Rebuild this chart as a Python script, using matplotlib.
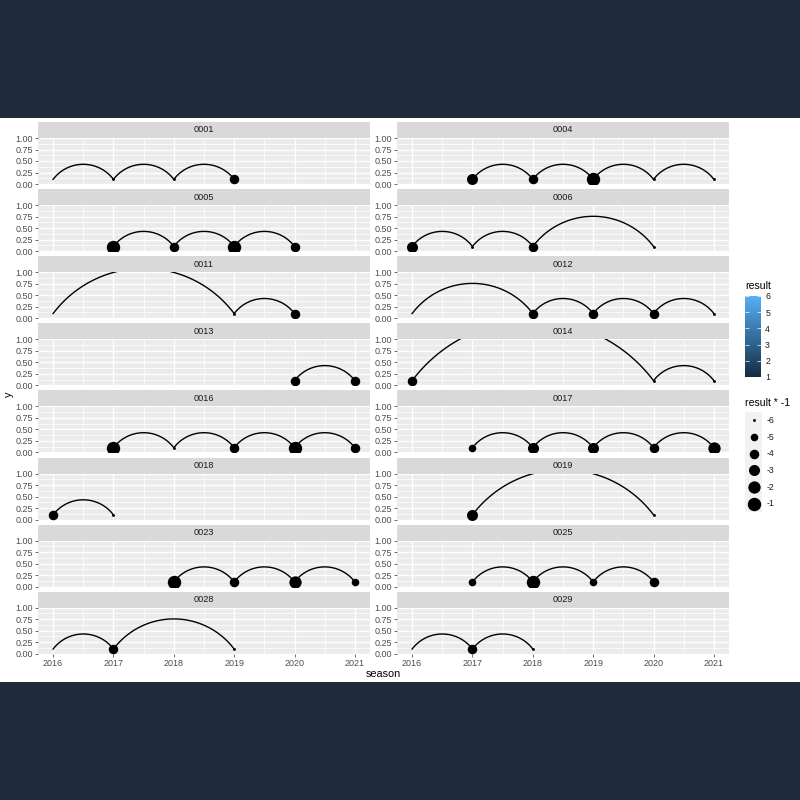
# Arc timeline per id (facet grid, ggplot look)

import numpy as np
import matplotlib.pyplot as plt
from matplotlib.patches import Rectangle
from matplotlib.colors import LinearSegmentedColormap
from matplotlib.cm import ScalarMappable
from matplotlib.colors import Normalize

plt.rcParams['font.family'] = ['Liberation Sans', 'DejaVu Sans']

# data
facet_ids = ['0001', '0004', '0005', '0006', '0011', '0012', '0013', '0014',
             '0016', '0017', '0018', '0019', '0023', '0025', '0028', '0029']
facet_seasons = [
    [2016, 2017, 2018, 2019],
    [2017, 2018, 2019, 2020, 2021],
    [2017, 2018, 2019, 2020],
    [2016, 2017, 2018, 2020],
    [2016, 2019, 2020],
    [2016, 2018, 2019, 2020, 2021],
    [2020, 2021],
    [2016, 2020, 2021],
    [2017, 2018, 2019, 2020, 2021],
    [2017, 2018, 2019, 2020, 2021],
    [2016, 2017],
    [2017, 2020],
    [2018, 2019, 2020, 2021],
    [2017, 2018, 2019, 2020],
    [2016, 2017, 2019],
    [2016, 2017, 2018],
]
# None = no point drawn
facet_results = [
    [None, 6, 6, 4],
    [3, 4, 1, 6, 6],
    [1, 4, 1, 4],
    [3, 6, 4, 6],
    [None, 6, 4],
    [None, 4, 4, 4, 6],
    [4, 4],
    [4, 6, 6],
    [1, 6, 4, 1, 4],
    [5, 3, 3, 4, 2],
    [4, 6],
    [3, 6],
    [1, 4, 2, 5],
    [5, 1, 5, 4],
    [None, 4, 6],
    [None, 4, 6],
]
year_ticks = [2016, 2017, 2018, 2019, 2020, 2021]
y_ticks = [0.0, 0.25, 0.5, 0.75, 1.0]
size_levels = [-6, -5, -4, -3, -2, -1]
color_ticks = [1, 2, 3, 4, 5, 6]
base_y = 0.1

W, H = 800, 800
navy = '#1f2a3c'


def px_box(x0, y0, w, h):
    # pixel box (top-left origin) -> figure fraction
    return [x0 / W, 1 - (y0 + h) / H, w / W, h / H]


def dot_size(result):
    # ggplot scale_size area, range 1..6, on result * -1
    v = -result
    t = (v - (-6)) / 5.0
    size = 1 + 5 * np.sqrt(t)
    d_px = 2.1 * size + 0.8
    return (d_px * 0.72) ** 2


def arc_xy(x0, x1, k):
    # circular arc in screen space, sagitta = chord / 4
    c = (x1 - x0) * k
    r = 5 * c / 8
    th = np.arcsin(0.8)
    t = np.linspace(-th, th, 120)
    mid = (x0 + x1) / 2 * k
    yc = base_y - 3 * c / 8
    return (mid + r * np.sin(t)) / k, yc + r * np.cos(t)


fig = plt.figure(figsize=(8, 8), dpi=100)
fig.patch.set_facecolor(navy)
fig.add_artist(Rectangle((0, 1 - 682 / H), 1, 564 / H, transform=fig.transFigure,
                         facecolor='white', edgecolor='none', zorder=0))

col_x = [38, 397]
panel_w = 332
row_top0 = 122
row_pitch = 67.1
strip_h = 16
panel_h = 46
xlim = (2015.75, 2021.25)

for i, fid in enumerate(facet_ids):
    row, col = i // 2, i % 2
    top = row_top0 + row * row_pitch
    sax = fig.add_axes(px_box(col_x[col], top, panel_w, strip_h))
    sax.set_facecolor('#D9D9D9')
    sax.set_xticks([])
    sax.set_yticks([])
    for sp in sax.spines.values():
        sp.set_visible(False)
    sax.text(0.5, 0.5, fid, ha='center', va='center', fontsize=6.6, color='#1A1A1A',
             transform=sax.transAxes)

    ax = fig.add_axes(px_box(col_x[col], top + strip_h, panel_w, panel_h))
    ax.set_facecolor('#EBEBEB')
    for sp in ax.spines.values():
        sp.set_visible(False)
    ax.set_xticks(year_ticks)
    ax.set_xticks([y + 0.5 for y in year_ticks[:-1]], minor=True)
    ax.set_yticks(y_ticks)
    ax.set_yticks([0.125, 0.375, 0.625, 0.875], minor=True)
    ax.set_yticklabels(['%.2f' % v for v in y_ticks])
    ax.set_xlim(*xlim)
    ax.set_ylim(0, 1)
    ax.grid(which='major', color='white', linewidth=1.0)
    ax.grid(which='minor', color='white', linewidth=0.5)
    ax.set_axisbelow(True)
    ax.tick_params(which='major', length=2, width=0.5, color='#333333',
                   labelsize=6.5, labelcolor='#4D4D4D', pad=1.5)
    ax.tick_params(which='minor', length=0)
    if row < 7:
        ax.tick_params(axis='x', which='major', length=0, labelbottom=False)

    k = (panel_w / (xlim[1] - xlim[0])) / panel_h
    seasons = facet_seasons[i]
    results = facet_results[i]
    for a, b in zip(seasons[:-1], seasons[1:]):
        xs, ys = arc_xy(a, b, k)
        ax.plot(xs, ys, color='black', linewidth=1.0, zorder=2)
    for s, r in zip(seasons, results):
        if r is None:
            continue
        ax.scatter([s], [base_y], s=dot_size(r), color='black', linewidths=0, zorder=3)

fig.text(383.5 / W, 1 - 674 / H, 'season', ha='center', va='center', fontsize=7.8)
fig.text(9 / W, 1 - 394 / H, 'y', ha='center', va='center', rotation=90, fontsize=7.8)

# colour legend
fig.text(745 / W, 1 - 286 / H, 'result', ha='left', va='center', fontsize=7.6)
cax = fig.add_axes(px_box(745, 296, 16, 81))
cmap = LinearSegmentedColormap.from_list('gg', ['#132B43', '#56B1F7'])
sm = ScalarMappable(norm=Normalize(1, 6), cmap=cmap)
cb = fig.colorbar(sm, cax=cax, ticks=color_ticks)
cb.outline.set_visible(False)
cax.yaxis.set_ticks_position('both')
cax.tick_params(direction='in', color='white', length=3, width=0.5,
                labelsize=6.3, labelcolor='#1A1A1A', labelleft=False, labelright=True, pad=3)

# size legend
fig.text(745 / W, 1 - 403 / H, 'result * -1', ha='left', va='center', fontsize=7.6)
lax = fig.add_axes(px_box(745, 412, 17, 100))
lax.set_facecolor('#F2F2F2')
for sp in lax.spines.values():
    sp.set_visible(False)
lax.set_xticks([])
lax.set_yticks([])
lax.set_xlim(0, 1)
lax.set_ylim(len(size_levels) - 0.5, -0.5)
for j, lv in enumerate(size_levels):
    lax.scatter([0.5], [j], s=dot_size(-lv), color='black', linewidths=0)
    lax.text(1.3, j, str(lv), ha='left', va='center', fontsize=6.3, color='#1A1A1A',
             transform=lax.transData, clip_on=False)

fig.savefig('out.png', dpi=100, facecolor=fig.get_facecolor())
